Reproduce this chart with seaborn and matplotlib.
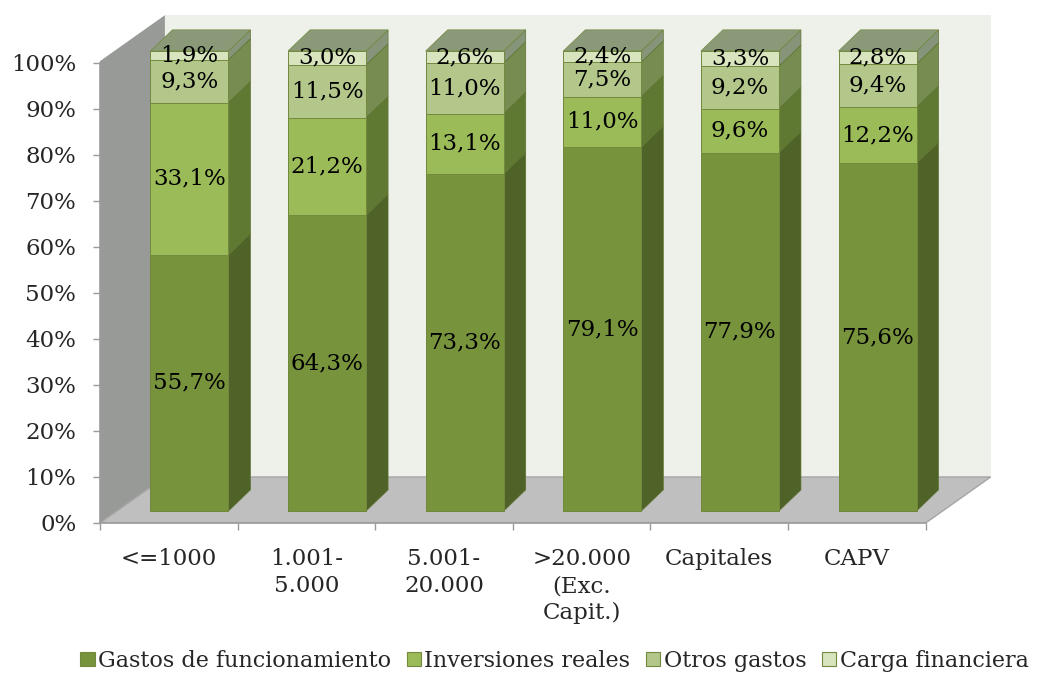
import numpy as np
import pandas as pd
import seaborn as sns
import matplotlib.pyplot as plt
from matplotlib.patches import Polygon, Patch

# categories and series (percent of total spending)
categorias = ['<=1000', '1.001-\n5.000', '5.001-\n20.000', '>20.000\n(Exc.\nCapit.)', 'Capitales', 'CAPV']
gastos_funcionamiento = [55.7, 64.3, 73.3, 79.1, 77.9, 75.6]
inversiones_reales = [33.1, 21.2, 13.1, 11.0, 9.6, 12.2]
otros_gastos = [9.3, 11.5, 11.0, 7.5, 9.2, 9.4]
carga_financiera = [1.9, 3.0, 2.6, 2.4, 3.3, 2.8]

series = ['Gastos de funcionamiento', 'Inversiones reales', 'Otros gastos', 'Carga financiera']
front = ['#77933C', '#9BBB59', '#B3C78B', '#D7E4BE']
side = ['#4F6228', '#5F7832', '#768C50', '#86957A']
top_col = '#8A9A78'
FS = 16.5

sns.set_theme(style='white')
plt.rcParams['font.family'] = ['DejaVu Serif']

df = pd.DataFrame({'cat': categorias,
                   series[0]: gastos_funcionamiento,
                   series[1]: inversiones_reales,
                   series[2]: otros_gastos,
                   series[3]: carga_financiera})
vals = df[series].to_numpy()
cum = vals.cumsum(axis=1)

fig = plt.figure(figsize=(10.38, 6.73), dpi=100)
ax = fig.add_axes([0.0963, 0.2229, 0.8671, 0.7621])

# 3d offsets (data units)
wall_dx, wall_dy = 0.472, 10.0
bar_dx, bar_dy = 0.16, 4.6
bar_shift, bar_base = 0.15, 2.6

# walls and floor
ax.add_patch(Polygon([(-0.5 + wall_dx, wall_dy), (5.5 + wall_dx, wall_dy),
                      (5.5 + wall_dx, 110.4), (-0.5 + wall_dx, 110.4)],
                     closed=True, fc='#EEF0EA', ec='none', zorder=0))
ax.add_patch(Polygon([(-0.5, 0), (-0.5 + wall_dx, wall_dy), (-0.5 + wall_dx, 110.4), (-0.5, 100.4)],
                     closed=True, fc='#979A96', ec='none', zorder=0.5))
ax.add_patch(Polygon([(-0.5, 0), (5.5, 0), (5.5 + wall_dx, wall_dy), (-0.5 + wall_dx, wall_dy)],
                     closed=True, fc='#BFBFBF', ec='#A5A5A5', lw=1, zorder=0.5))

# stacked front faces: tallest first
bars = {}
for k in range(3, -1, -1):
    n0 = len(ax.patches)
    sns.barplot(x=df['cat'], y=cum[:, k], color=front[k], saturation=1, width=0.567,
                errorbar=None, edgecolor='#72893E', linewidth=0.7, ax=ax, zorder=3)
    bars[k] = ax.patches[n0:]
    for p in bars[k]:
        p.set_x(p.get_x() + bar_shift)
        p.set_y(bar_base)

# side and top faces, labels
for i in range(len(categorias)):
    p = bars[0][i]
    x0 = p.get_x()
    x1 = x0 + p.get_width()
    bottom = 0.0
    for k in range(4):
        b = bar_base + bottom
        t = bar_base + cum[i, k]
        ax.add_patch(Polygon([(x1, b), (x1 + bar_dx, b + bar_dy), (x1 + bar_dx, t + bar_dy), (x1, t)],
                             closed=True, fc=side[k], ec='#5E7330', lw=0.5, zorder=2.5))
        lab = f'{vals[i, k]:.1f}'.replace('.', ',') + '%'
        ax.text((x0 + x1) / 2, b + vals[i, k] / 2, lab, ha='center', va='center',
                fontsize=FS, color='black', zorder=6)
        bottom = cum[i, k]
    t = bar_base + cum[i, 3]
    ax.add_patch(Polygon([(x0, t), (x1, t), (x1 + bar_dx, t + bar_dy), (x0 + bar_dx, t + bar_dy)],
                         closed=True, fc=top_col, ec='#72893E', lw=0.5, zorder=2.5))

ax.set_xlim(-0.5, 6.04)
ax.set_ylim(0, 111.5)
ax.set_xlabel('')
ax.set_ylabel('')

for s in ['top', 'right']:
    ax.spines[s].set_visible(False)
ax.spines['left'].set_bounds(0, 100)
ax.spines['bottom'].set_bounds(-0.5, 5.5)
for s in ['left', 'bottom']:
    ax.spines[s].set_color('#9A9A9A')
    ax.spines[s].set_linewidth(1.2)
    ax.spines[s].set_zorder(1)

ax.set_yticks(np.arange(0, 101, 10))
ax.set_yticklabels([f'{v}%' for v in range(0, 101, 10)], fontsize=FS)
ax.set_xticks(np.arange(-0.5, 6, 1))
ax.set_xticklabels([])
ax.set_xticks(range(6), minor=True)
ax.set_xticklabels(categorias, minor=True, fontsize=FS, linespacing=1.3)
ax.tick_params(axis='y', length=5, width=1, color='#9A9A9A', pad=12, left=True)
ax.tick_params(axis='x', which='major', length=5, width=1, color='#9A9A9A', bottom=True)
ax.tick_params(axis='x', which='minor', length=0, pad=18)

handles = [Patch(fc=front[k], ec='#72893E', lw=0.8) for k in range(4)]
fig.legend(handles, series, loc='lower center', bbox_to_anchor=(0.534, -0.028), ncol=4,
           frameon=False, fontsize=16, handlelength=0.65, handleheight=0.65,
           handletextpad=0.15, columnspacing=0.7)

fig.savefig('out.png', dpi=100)
